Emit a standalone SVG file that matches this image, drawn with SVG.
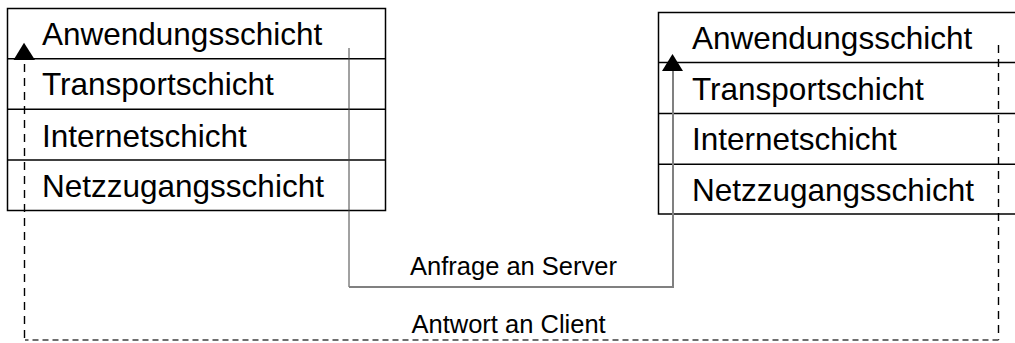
<svg xmlns="http://www.w3.org/2000/svg" width="1015" height="343" viewBox="0 0 1015 343">
  <style>
    .box { fill: #ffffff; stroke: #000000; stroke-width: 1.5; }
    .sep { stroke: #000000; stroke-width: 1.5; }
    .layer { font-family: "Liberation Sans", Arial, sans-serif; font-size: 31.5px; fill: #000000; }
    .label { font-family: "Liberation Sans", Arial, sans-serif; font-size: 25.5px; fill: #000000; }
    .req { fill: none; stroke: #808080; stroke-width: 2; }
    .req-thin { fill: none; stroke: #444444; stroke-width: 1; }
    .resp { fill: none; stroke: #000000; stroke-width: 1.4; stroke-dasharray: 8 6; }
    .resp-gray { fill: none; stroke: #6e6e6e; stroke-width: 1.8; stroke-dasharray: 6 4; }
    .head { fill: #000000; }
  </style>

  <!-- Client protocol stack -->
  <g id="client-stack">
    <rect class="box" x="7.5" y="8.5" width="378" height="202"/>
    <line class="sep" x1="7.5" y1="58.8" x2="385.5" y2="58.8"/>
    <line class="sep" x1="7.5" y1="109.3" x2="385.5" y2="109.3"/>
    <line class="sep" x1="7.5" y1="160" x2="385.5" y2="160"/>
    <text class="layer" x="42" y="45">Anwendungsschicht</text>
    <text class="layer" x="42" y="95">Transportschicht</text>
    <text class="layer" x="42" y="146.5">Internetschicht</text>
    <text class="layer" x="42" y="196.5">Netzzugangsschicht</text>
  </g>

  <!-- Server protocol stack (continues past the right edge) -->
  <g id="server-stack">
    <rect class="box" x="658.5" y="12.5" width="380" height="201.5"/>
    <line class="sep" x1="658.5" y1="62.5" x2="1038" y2="62.5"/>
    <line class="sep" x1="658.5" y1="113.5" x2="1038" y2="113.5"/>
    <line class="sep" x1="658.5" y1="164.3" x2="1038" y2="164.3"/>
    <text class="layer" x="692" y="49">Anwendungsschicht</text>
    <text class="layer" x="692" y="99.5">Transportschicht</text>
    <text class="layer" x="692" y="150">Internetschicht</text>
    <text class="layer" x="692" y="201">Netzzugangsschicht</text>
  </g>

  <!-- Request / response paths -->
  <g id="connectors">
    <!-- request: client down, across, up into the server -->
    <line class="req-thin" x1="349" y1="48" x2="349" y2="287"/>
    <polyline class="req" points="349,287 673,287 673,70"/>
    <polygon class="head" points="672.5,54 662,71 683,71"/>

    <!-- response: server down, back across, up into the client -->
    <line class="resp" x1="998.5" y1="45" x2="998.5" y2="340"/>
    <line class="resp-gray" x1="998.5" y1="340" x2="25" y2="340"/>
    <line class="resp" x1="24.5" y1="338" x2="24.5" y2="60"/>
    <polygon class="head" points="24,42.7 13.5,60 35,60"/>

    <text class="label" x="410" y="275">Anfrage an Server</text>
    <text class="label" x="411.5" y="333">Antwort an Client</text>
  </g>
</svg>
